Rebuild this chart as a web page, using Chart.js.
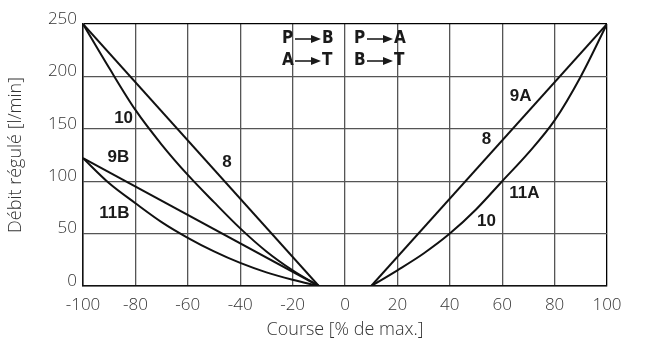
<!DOCTYPE html>
<html>
<head>
<meta charset="utf-8">
<script src="https://cdn.jsdelivr.net/npm/chart.js@4/dist/chart.umd.min.js"></script>
<style>
  body { margin: 0; background: #fff; }
  #wrap { width: 654px; height: 341px; }
</style>
</head>
<body>
<div id="wrap"><canvas id="debitChart"></canvas></div>
<script>
// course (% de max.) pour les courbes
let courseA = [10, 20, 30, 40, 50, 60, 70, 80, 90, 100];
let courseB = [-10, -20, -30, -40, -50, -60, -70, -80, -90, -100];

// débit régulé [l/min]
let debit10A = [0, 15, 31, 50, 73, 100, 127, 158, 200, 250];  // 10 / 11A
let debit10B = [0, 15, 33, 55, 80, 106, 135, 168, 208, 250];  // 10 côté B
let debit11B = [0, 6, 13, 22, 33, 46, 61, 79, 98, 122];       // 11B

// droites
let course8A = [10, 100];
let debit8A = [0, 250];   // 8 / 9A
let course8B = [-10, -100];
let debit8B = [0, 250];   // 8 côté B
let course9B = [-10, -100];
let debit9B = [0, 122];   // 9B

let xTicks = [-100, -80, -60, -40, -20, 0, 20, 40, 60, 80, 100];
let yTicks = [0, 50, 100, 150, 200, 250];

// étiquettes des courbes [texte, course, débit]
let curveLabels = [
  ['10', -84.5, 160],
  ['9B', -86.5, 123],
  ['11B', -88, 69],
  ['8', -45, 118],
  ['9A', 67, 181],
  ['8', 54, 140],
  ['11A', 68.5, 88],
  ['10', 54, 62]
];

function pts(xs, ys) {
  return xs.map((x, i) => ({ x: x, y: ys[i] }));
}

function serie(xs, ys, curved) {
  return {
    data: pts(xs, ys),
    showLine: true,
    borderColor: '#111',
    borderWidth: 2,
    pointRadius: 0,
    fill: false,
    tension: curved ? 0.4 : 0,
    cubicInterpolationMode: curved ? 'monotone' : 'default'
  };
}

const lightFont = { family: "'Open Sans', 'Liberation Sans', sans-serif", size: 17, weight: '300' };

const annotations = {
  id: 'annotations',
  afterDatasetsDraw(chart) {
    const c = chart.ctx;
    const xs = chart.scales.x, ys = chart.scales.y;
    c.save();
    c.fillStyle = '#1a1a1a';
    c.font = "bold 17px 'Liberation Sans', Arial, sans-serif";
    c.textAlign = 'center';
    c.textBaseline = 'middle';
    curveLabels.forEach(l => {
      c.fillText(l[0], xs.getPixelForValue(l[1]), ys.getPixelForValue(l[2]));
    });

    // P -> B / A -> T et P -> A / B -> T
    const x0 = xs.getPixelForValue(0);
    const y1 = 39, y2 = 61;
    c.font = "bold 17px 'Liberation Sans Narrow', 'DejaVu Sans Condensed', sans-serif";
    c.textAlign = 'left';
    function arrow(xa, xb, y) {
      c.strokeStyle = '#111';
      c.lineWidth = 1.5;
      c.beginPath();
      c.moveTo(xa, y);
      c.lineTo(xb - 8, y);
      c.stroke();
      c.beginPath();
      c.moveTo(xb, y);
      c.lineTo(xb - 10, y - 4);
      c.lineTo(xb - 10, y + 4);
      c.closePath();
      c.fill();
    }
    function group(xLeft, a, b, yy) {
      c.fillText(a, xLeft, yy);
      arrow(xLeft + 13, xLeft + 39, yy);
      c.fillText(b, xLeft + 40, yy);
    }
    group(x0 - 63, 'P', 'B', y1);
    group(x0 - 63, 'A', 'T', y2);
    group(x0 + 9, 'P', 'A', y1);
    group(x0 + 9, 'B', 'T', y2);
    c.restore();
  }
};

let ctx = document.getElementById('debitChart').getContext('2d');

let debitChart = new Chart(ctx, {
  type: 'scatter',
  data: {
    datasets: [
      serie(courseA, debit10A, true),
      serie(courseB, debit10B, true),
      serie(courseB, debit11B, true),
      serie(course8A, debit8A, false),
      serie(course8B, debit8B, false),
      serie(course9B, debit9B, false)
    ]
  },
  options: {
    responsive: true,
    maintainAspectRatio: false,
    animation: false,
    layout: { padding: { top: 24, right: 47, left: 5, bottom: 0 } },
    plugins: { legend: { display: false }, tooltip: { enabled: false } },
    scales: {
      x: {
        type: 'linear',
        min: -100,
        max: 100,
        afterBuildTicks: s => { s.ticks = xTicks.map(v => ({ value: v })); },
        afterFit: s => { s.height = 55; },
        ticks: { color: '#333', font: lightFont, padding: 9, maxRotation: 0 },
        grid: {
          color: c => (c.tick && c.tick.value === 100 ? '#000' : '#555'),
          lineWidth: 1.3,
          drawTicks: false
        },
        border: { color: '#111', width: 1.5 },
        title: { display: true, text: 'Course [% de max.]', color: '#333', font: { family: lightFont.family, size: 18, weight: '300' }, padding: 0 }
      },
      y: {
        min: 0,
        max: 250,
        afterBuildTicks: s => { s.ticks = yTicks.map(v => ({ value: v })); },
        afterFit: s => { s.width = 78; },
        ticks: { color: '#333', font: lightFont, padding: 6, labelOffset: -5 },
        grid: {
          color: c => (c.tick && c.tick.value === 250 ? '#000' : '#555'),
          lineWidth: 1.3,
          drawTicks: false
        },
        border: { color: '#111', width: 1.5 },
        title: { display: true, text: 'Débit régulé [l/min]', color: '#333', font: { family: lightFont.family, size: 18, weight: '300' }, padding: 0 }
      }
    }
  },
  plugins: [annotations]
});
</script>
</body>
</html>
